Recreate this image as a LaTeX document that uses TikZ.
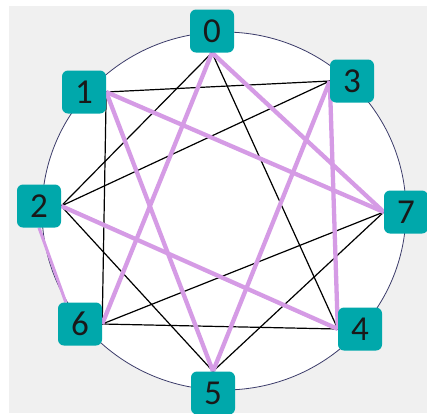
\documentclass[tikz,border=0pt]{standalone}
\usepackage{fontspec}
\setmainfont{Carlito}
\usetikzlibrary{backgrounds}
\definecolor{tealbox}{HTML}{00A8AB}
\definecolor{lilac}{HTML}{D59BE5}
\definecolor{rim}{HTML}{3C3C6A}
\definecolor{paper}{HTML}{F0F0F0}

\begin{document}
\begin{tikzpicture}[x=1pt,y=-1pt,
  vtx/.style={fill=tealbox,rounded corners=6pt,minimum width=44pt,minimum height=43pt,
    inner sep=0pt,text=black!90,font=\fontsize{35}{35}\selectfont},
  blk/.style={black,line width=1.2pt},
  pur/.style={lilac,line width=4.3pt}]
\useasboundingbox (0,0) rectangle (427,413);
\node[vtx] (n0) at (212,31) {0};
\node[vtx] (n1) at (84,92) {1};
\node[vtx] (n2) at (39,206) {2};
\node[vtx] (n3) at (352,81) {3};
\node[vtx] (n4) at (360,329) {4};
\node[vtx] (n5) at (213,393) {5};
\node[vtx] (n6) at (80,324) {6};
\node[vtx] (n7) at (406,212) {7};
\begin{pgfonlayer}{background}
\fill[white] (0,0) rectangle (427,413);
\fill[paper] (9,6) rectangle (427,413);
\draw[rim,fill=white,line width=0.8pt] (224,211) ellipse [x radius=182,y radius=179];
% thin edges
\foreach \a/\b in {n0.south/n2.east, n0.south/n4.west, n1.east/n3.west, n1.east/n6.east,
  n2.east/n3.west, n2.east/n5.north, n6.east/n4.west, n6.east/n7.west, n7.west/n5.north}
  \draw[blk] (\a) -- (\b);
% tour
\foreach \a/\b in {n0.south/n6.east, n0.south/n7.west, n1.east/n7.west, n1.east/n5.north,
  n3.west/n5.north, n3.west/n4.west, n2.east/n4.west}
  \draw[pur] (\a) -- (\b);
\draw[pur,line width=3pt] (n2.south) -- ([xshift=8pt]n6.north west);
\end{pgfonlayer}
\end{tikzpicture}
\end{document}
